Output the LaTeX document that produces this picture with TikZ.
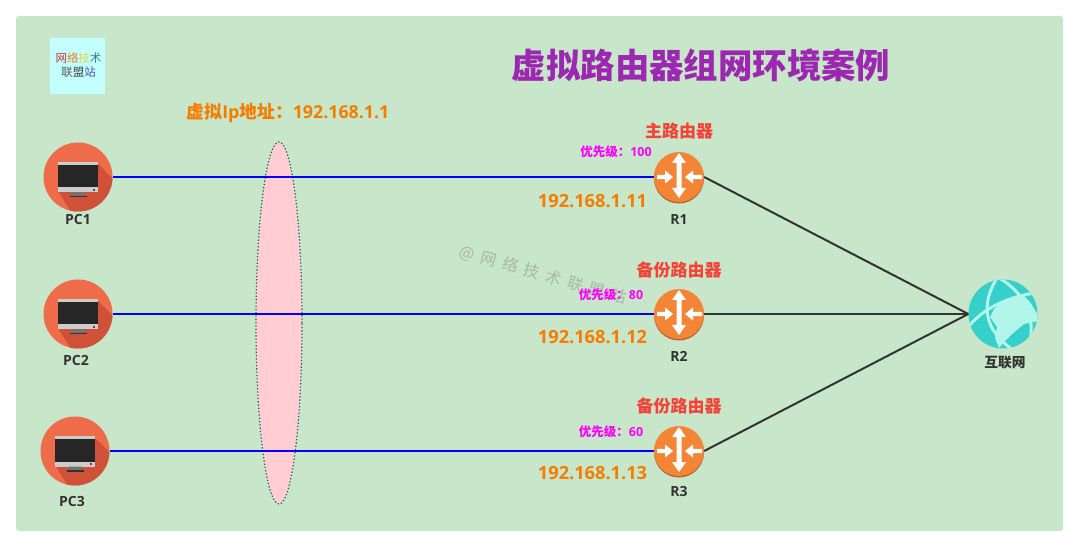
\documentclass[tikz,border=0pt]{standalone}
\usetikzlibrary{shapes.geometric}
\usepackage{fontspec}
\setmainfont{Open Sans}
\newfontfamily\cjk{Noto Sans CJK SC}
\definecolor{cardbg}{HTML}{C8E6C9}
\definecolor{titlec}{HTML}{9C27B0}
\definecolor{orangec}{HTML}{F57C00}
\definecolor{redc}{HTML}{F44336}
\definecolor{prioc}{HTML}{FF00FF}
\definecolor{purec}{HTML}{0000FF}
\definecolor{logoc}{HTML}{C4FFFF}
\definecolor{pinkfill}{HTML}{FFCDD2}
\definecolor{dotc}{HTML}{1F5F5F}
\definecolor{labelc}{HTML}{333333}
\definecolor{pcc}{HTML}{EE6C4A}
\definecolor{pcs}{HTML}{CF5238}
\definecolor{routerc}{HTML}{F58536}
\definecolor{routers}{HTML}{B5652F}
\definecolor{netc}{HTML}{36CFC9}
\definecolor{netl}{HTML}{B2F5EA}
\tikzset{
  x=1pt,y=-1pt,
  txt/.style={inner sep=0pt,align=center,font=\bfseries},
  ipaddr/.style={txt,text=orangec,font=\fontsize{18.2}{20}\selectfont\bfseries},
  role/.style={txt,text=redc,font=\fontsize{17}{20}\selectfont\cjk\bfseries},
  prio/.style={txt,text=prioc,font=\fontsize{12.5}{14}\selectfont\bfseries},
  devlabel/.style={txt,text=labelc,font=\fontsize{14}{16}\selectfont\bfseries},
  pcnode/.style={circle,inner sep=0pt,minimum size=69pt,fill=pcc},
  rtnode/.style={circle,inner sep=0pt,minimum size=50pt},
  netnode/.style={circle,inner sep=0pt,minimum size=69pt,fill=netc},
  lan/.style={draw=purec,line width=2.6pt},
  wan/.style={draw=labelc,line width=2pt},
  pics/monitor/.style={code={
    \begin{scope}
      \clip (0,0) circle (34.5);
      \fill[pcs] (20,-13) -- (40,7) -- (40,40) -- (-4,40) -- (-20,14) -- cycle;
    \end{scope}
    \fill[black!20] (-20,-15) rectangle (20,15.5);
    \fill[black!85] (-20,-12) rectangle (20,10.5);
    \fill[black!55] (-6,15.5) -- (6,15.5) -- (8,19) -- (-8,19) -- cycle;
    \fill[black!80] (-8.5,19) rectangle (8.5,20.5);
    \fill[black!70] (15,12) rectangle (17,14);
  }},
  pics/routerarrows/.style={code={
    \fill[routers] (0,1.5) circle (25);
    \fill[routerc] (0,0) circle (25);
    \fill[white] (0,-24) -- (7,-14) -- (2.5,-14) -- (2.5,11) -- (7,11) -- (0,21) -- (-7,11) -- (-2.5,11) -- (-2.5,-14) -- (-7,-14) -- cycle;
    \fill[white] (-6,0) -- (-14,-6.5) -- (-14,-2.2) -- (-22,-2.2) -- (-22,2.2) -- (-14,2.2) -- (-14,6.5) -- cycle;
    \fill[white] (6,0) -- (14,-6.5) -- (14,-2.2) -- (23,-2.2) -- (23,2.2) -- (14,2.2) -- (14,6.5) -- cycle;
  }},
  pics/globe/.style={code={
    \begin{scope}
      \clip (0,0) circle (34.5);
      \fill[netl] (-4,-10) -- (9,-17) -- (21,-18) -- (27,-12) -- (35,1) -- (35,7) -- (21,10) -- (9,20) -- (1,28) -- (-4,34) -- (-8,24) -- (-6,13) -- (-13,3) -- (-9,-5) -- cycle;
      \draw[netl,line width=3pt] (-37,16) .. controls (-20,-8) and (10,-18) .. (32,-21);
      \draw[netl,line width=3pt] (-6,-36) .. controls (-22,-10) and (-20,15) .. (10,36);
      \draw[netl,line width=3pt] (-4,-36) .. controls (15,-25) and (33,-5) .. (27,28);
    \end{scope}
  }}
}
\begin{document}
\begin{tikzpicture}
\useasboundingbox (0,0) rectangle (1080,548);
\fill[white] (0,0) rectangle (1080,548);
\fill[cardbg,rounded corners=3pt] (16,16) rectangle (1063,531);

% logo
\node[fill=logoc,minimum width=55pt,minimum height=56pt,inner sep=0pt] (logo) at (77.5,66) {};
\node[inner sep=0pt,align=center,font=\fontsize{11.5}{14}\selectfont\cjk] (logotext) at (78.5,65) {\textcolor{red!60!gray}{网}\textcolor{orange!80!gray}{络}\textcolor{yellow!70!gray}{技}\textcolor{teal!60!gray}{术}\\\textcolor{black!65}{联}\textcolor{black!75}{盟}\textcolor{blue!40!gray}{站}};

\node[txt,text=titlec,font=\fontsize{34.4}{38}\selectfont\cjk\bfseries] (title) at (701,65) {虚拟路由器组网环境案例};
\node[txt,text=orangec,font=\fontsize{17.8}{20}\selectfont\bfseries] (vip) at (288,113) {{\cjk 虚拟}Ip{\cjk 地址：}192.168.1.1};

% virtual ip ellipse
\node[ellipse,draw=dotc,dash pattern=on 1.3pt off 2pt,line width=1.2pt,fill=pinkfill,minimum width=46pt,minimum height=362pt,inner sep=0pt] (vr) at (279,323) {};

% devices
\node[pcnode] (pc1) at (78,177) {};
\node[pcnode] (pc2) at (78,314) {};
\node[pcnode] (pc3) at (75,451) {};
\pic at (pc1) {monitor};
\pic at (pc2) {monitor};
\pic at (pc3) {monitor};
\node[rtnode] (r1) at (679,177) {};
\node[rtnode] (r2) at (679,314) {};
\node[rtnode] (r3) at (679,451) {};
\node[netnode] (net) at (1003,314) {};
\pic at (net) {globe};

% connectors
\draw[lan] (pc1) -- (r1);
\draw[lan] (pc2) -- (r2);
\draw[lan] (pc3) -- (r3);
\draw[wan] (r1.east) -- (net.west);
\draw[wan] (r2.east) -- (net.west);
\draw[wan] (r3.east) -- (net.west);
\pic at (r1) {routerarrows};
\pic at (r2) {routerarrows};
\pic at (r3) {routerarrows};

% watermark
\node[inner sep=0pt,rotate=-16,text=black!50,opacity=.45,font=\fontsize{16}{18}\selectfont\cjk] (wm) at (543,275) {@\hspace{7pt}网\hspace{6.5pt}络\hspace{6.5pt}技\hspace{6.5pt}术\hspace{6.5pt}联\hspace{6.5pt}盟\hspace{6.5pt}站};

% labels
\node[devlabel] (l1) at (78,220) {PC1};
\node[devlabel] (l2) at (76,360) {PC2};
\node[devlabel] (l3) at (72,501) {PC3};
\node[devlabel] (lr1) at (679,220) {R1};
\node[devlabel] (lr2) at (679,356) {R2};
\node[devlabel] (lr3) at (679,491) {R3};
\node[devlabel,font=\fontsize{13.7}{16}\selectfont\cjk\bfseries] (lnet) at (1005,362) {互联网};
\node[role] (m1) at (679,131) {主路由器};
\node[role] (m2) at (679,270) {备份路由器};
\node[role] (m3) at (679,406) {备份路由器};
\node[prio] (p1) at (616,152) {{\cjk 优先级：}100};
\node[prio] (p2) at (611,295) {{\cjk 优先级：}80};
\node[prio] (p3) at (611,432) {{\cjk 优先级：}60};
\node[ipaddr] (a1) at (592.5,201) {192.168.1.11};
\node[ipaddr] (a2) at (592.5,337) {192.168.1.12};
\node[ipaddr] (a3) at (592.5,473) {192.168.1.13};
\end{tikzpicture}
\end{document}
